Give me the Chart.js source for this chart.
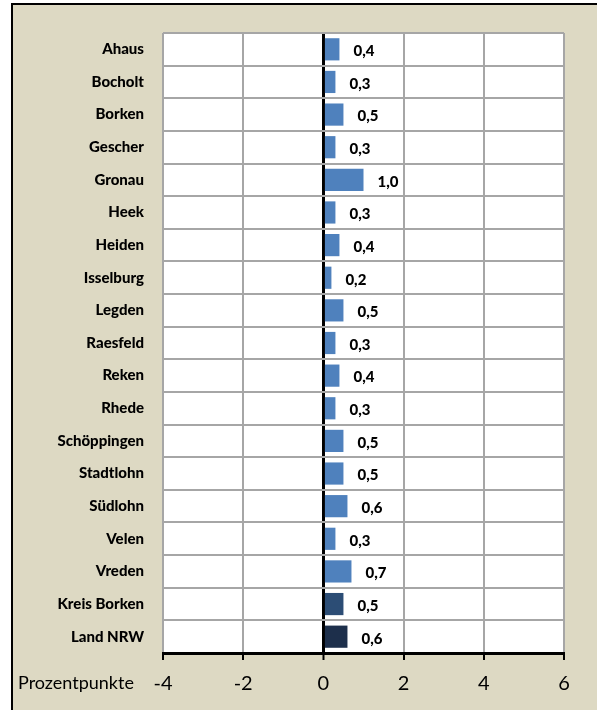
<!DOCTYPE html>
<html>
<head>
<meta charset="utf-8">
<script src="https://cdn.jsdelivr.net/npm/chart.js@4.4.0/dist/chart.umd.min.js"></script>
<style>
  body { margin: 0; background: #ffffff; overflow: hidden; }
  #frame {
    position: absolute; left: 11px; top: 3px; width: 600px; height: 720px;
    background: #ddd9c3; border: 2px solid #000;
  }
  #wrap { position: absolute; left: 0; top: 0; width: 597px; height: 710px; }
</style>
</head>
<body>
<div id="frame"></div>
<div id="wrap"><canvas id="chart" width="597" height="710"></canvas></div>
<script>
const categories = ['Ahaus', 'Bocholt', 'Borken', 'Gescher', 'Gronau', 'Heek', 'Heiden', 'Isselburg',
  'Legden', 'Raesfeld', 'Reken', 'Rhede', 'Schöppingen', 'Stadtlohn', 'Südlohn', 'Velen', 'Vreden',
  'Kreis Borken', 'Land NRW'];
const values = [0.4, 0.3, 0.5, 0.3, 1.0, 0.3, 0.4, 0.2, 0.5, 0.3, 0.4, 0.3, 0.5, 0.5, 0.6, 0.3, 0.7, 0.5, 0.6];
const xTicks = [-4, -2, 0, 2, 4, 6];
const unitLabel = 'Prozentpunkte';

const barColors = categories.map(c => {
  if (c === 'Kreis Borken') return '#2c4d75';
  if (c === 'Land NRW') return '#1d2f4b';
  return '#4f81bd';
});

// white plot area
const plotBg = {
  id: 'plotBg',
  beforeDraw(chart) {
    const a = chart.chartArea;
    chart.ctx.save();
    chart.ctx.fillStyle = '#fff';
    chart.ctx.fillRect(a.left, a.top, a.right - a.left, a.bottom - a.top);
    chart.ctx.restore();
  }
};

// draws the value next to each bar and the unit text left of the x ticks
const labelPlugin = {
  id: 'labels',
  afterDatasetsDraw(chart) {
    const ctx = chart.ctx;
    const meta = chart.getDatasetMeta(0);
    ctx.save();
    ctx.font = '900 15px Lato';
    ctx.fillStyle = '#000';
    ctx.textAlign = 'left';
    ctx.textBaseline = 'middle';
    meta.data.forEach((bar, i) => {
      const txt = values[i].toFixed(1).replace('.', ',');
      ctx.fillText(txt, bar.x + 14, bar.y + 2);
    });
    ctx.font = '18px Lato';
    ctx.fillText(unitLabel, 18, 683);
    ctx.restore();
  }
};

const ctx = document.getElementById('chart').getContext('2d');
new Chart(ctx, {
  type: 'bar',
  data: {
    labels: categories,
    datasets: [{
      data: values,
      backgroundColor: barColors,
      barPercentage: 0.68,
      categoryPercentage: 1
    }]
  },
  options: {
    indexAxis: 'y',
    responsive: false,
    animation: false,
    layout: { padding: { left: 0, top: 33, right: 33, bottom: 0 } },
    plugins: { legend: { display: false }, tooltip: { enabled: false } },
    scales: {
      x: {
        min: -4,
        max: 6,
        afterBuildTicks: scale => { scale.ticks = xTicks.map(v => ({ value: v })); },
        afterFit: scale => { scale.height = 57; },
        border: { display: true, color: '#000', width: 3 },
        grid: {
          color: c => (c.tick && c.tick.value === 0) ? '#000' : '#a6a6a6',
          lineWidth: c => (c.tick && c.tick.value === 0) ? 3 : 2,
          tickColor: '#000',
          tickLength: 7,
          tickWidth: 2
        },
        ticks: {
          color: '#000',
          font: { family: 'Lato', size: 20 },
          padding: 12,
          maxRotation: 0
        }
      },
      y: {
        offset: true,
        afterFit: scale => { scale.width = 163; },
        border: { display: false },
        grid: {
          offset: true,
          color: '#a6a6a6',
          lineWidth: 2,
          drawTicks: false
        },
        ticks: {
          color: '#000',
          font: { family: 'Lato', size: 15, weight: '900' },
          padding: 19
        }
      }
    }
  },
  plugins: [plotBg, labelPlugin]
});
</script>
</body>
</html>
